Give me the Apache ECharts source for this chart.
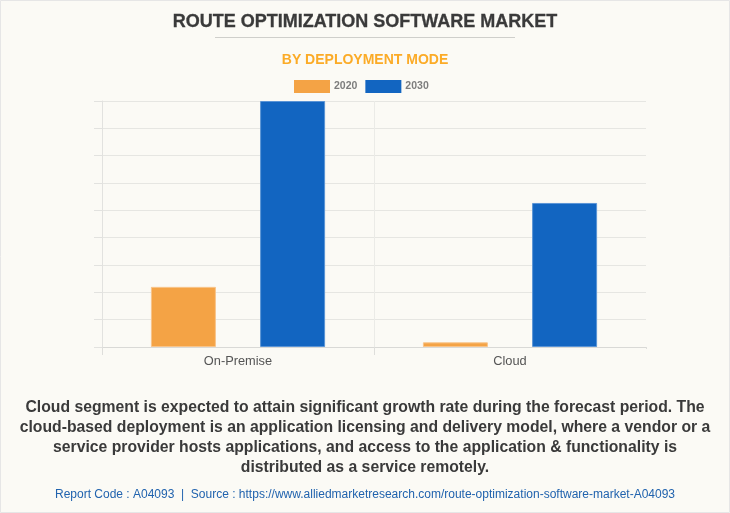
<!DOCTYPE html>
<html>
<head>
<meta charset="utf-8">
<style>
	html, body { margin: 0; padding: 0; background: #fbfaf5; }
	#chart { width: 730px; height: 513px; }
</style>
<script src="https://cdn.jsdelivr.net/npm/echarts@6/dist/echarts.min.js"></script>
</head>
<body>
<div id="chart"></div>
<script>
const categories = ["On-Premise", "Cloud"];
const values2020 = [2.2, 0.17];
const values2030 = [9, 5.27];
const seriesNames = ["2020", "2030"];
const chartTitle = "ROUTE OPTIMIZATION SOFTWARE MARKET";
const chartSubtitle = "BY DEPLOYMENT MODE";
const paragraphLines = [
	"Cloud segment is expected to attain significant growth rate during the forecast period. The",
	"cloud-based deployment is an application licensing and delivery model, where a vendor or a",
	"service provider hosts applications, and access to the application & functionality is",
	"distributed as a service remotely."
];
const footer = "Report Code : A04093  |  Source : https://www.alliedmarketresearch.com/route-optimization-software-market-A04093";

const FONT = '"Liberation Sans", Arial, sans-serif';
const BG = "#fbfaf5";
const chart = echarts.init(document.getElementById("chart"), null, { renderer: "canvas" });

const barSeries = (name, data, color, border) => ({
	name,
	type: "bar",
	data,
	barWidth: 65,
	barGap: "68%",
	itemStyle: { color, borderColor: border, borderWidth: 1 }
});

chart.setOption({
	backgroundColor: BG,
	animation: false,
	title: [
		{ text: chartTitle, left: 360, top: 8, textAlign: "center", textStyle: { fontFamily: FONT, fontSize: 18, fontWeight: "bold", color: "#3a3a3a", textBorderColor: "#3a3a3a", textBorderWidth: 0.3 } },
		{ text: chartSubtitle, left: 360, top: 48, textAlign: "center", textStyle: { fontFamily: FONT, fontSize: 14, fontWeight: "bold", color: "#fbab27" } },
		{ text: paragraphLines.join("\n"), left: 360, top: 393, textAlign: "center", textStyle: { fontFamily: FONT, fontSize: 15.75, fontWeight: "bold", color: "#3a3a3a", lineHeight: 20 } },
		{ text: footer, left: 360, top: 484, textAlign: "center", textStyle: { fontFamily: FONT, fontSize: 12, fontWeight: "normal", color: "#2163ae" } }
	],
	legend: {
		top: 75,
		left: 289,
		icon: "rect",
		itemWidth: 36,
		itemHeight: 13,
		itemGap: 8,
		data: seriesNames,
		itemStyle: { borderWidth: 0 },
		textStyle: { fontFamily: FONT, fontSize: 10.5, fontWeight: "bold", color: "#7d7d7d", padding: [0, 0, 0, -1] }
	},
	grid: { left: 102, right: 84, top: 101, bottom: 166 },
	xAxis: {
		type: "category",
		data: categories,
		axisLine: { lineStyle: { color: "#d9d9d6" } },
		axisTick: { show: true, length: 8, lineStyle: { color: "#dededb" } },
		axisLabel: { fontFamily: FONT, fontSize: 12.8, color: "#555", margin: 8 },
		splitLine: { show: true, showMaxLine: false, lineStyle: { color: "#ebebe7" } }
	},
	yAxis: {
		type: "value",
		min: 0,
		max: 9,
		interval: 1,
		axisLine: { show: true, lineStyle: { color: "#e2e2df" } },
		axisTick: { show: true, length: 8, lineStyle: { color: "#e2e2df" } },
		axisLabel: { show: false },
		splitLine: { show: true, lineStyle: { color: "#e6e6e2" } }
	},
	series: [
		barSeries(seriesNames[0], values2020, "#f4a345", "#f8c48a"),
		barSeries(seriesNames[1], values2030, "#1265c1", "#5a94d6")
	],
	graphic: [
		{ type: "line", silent: true, shape: { x1: 215, y1: 37.5, x2: 515, y2: 37.5 }, style: { stroke: "#cfcfcb", lineWidth: 1 } },
		// the reference has no closing tick at the right end of the x axis
		{ type: "rect", silent: true, z: 100, shape: { x: 644, y: 349, width: 5, height: 8 }, style: { fill: BG } },
		{ type: "rect", silent: true, shape: { x: 0.5, y: 0.5, width: 729, height: 512 }, style: { fill: "none", stroke: "#e6e6e6", lineWidth: 1 } }
	]
});
</script>
</body>
</html>
